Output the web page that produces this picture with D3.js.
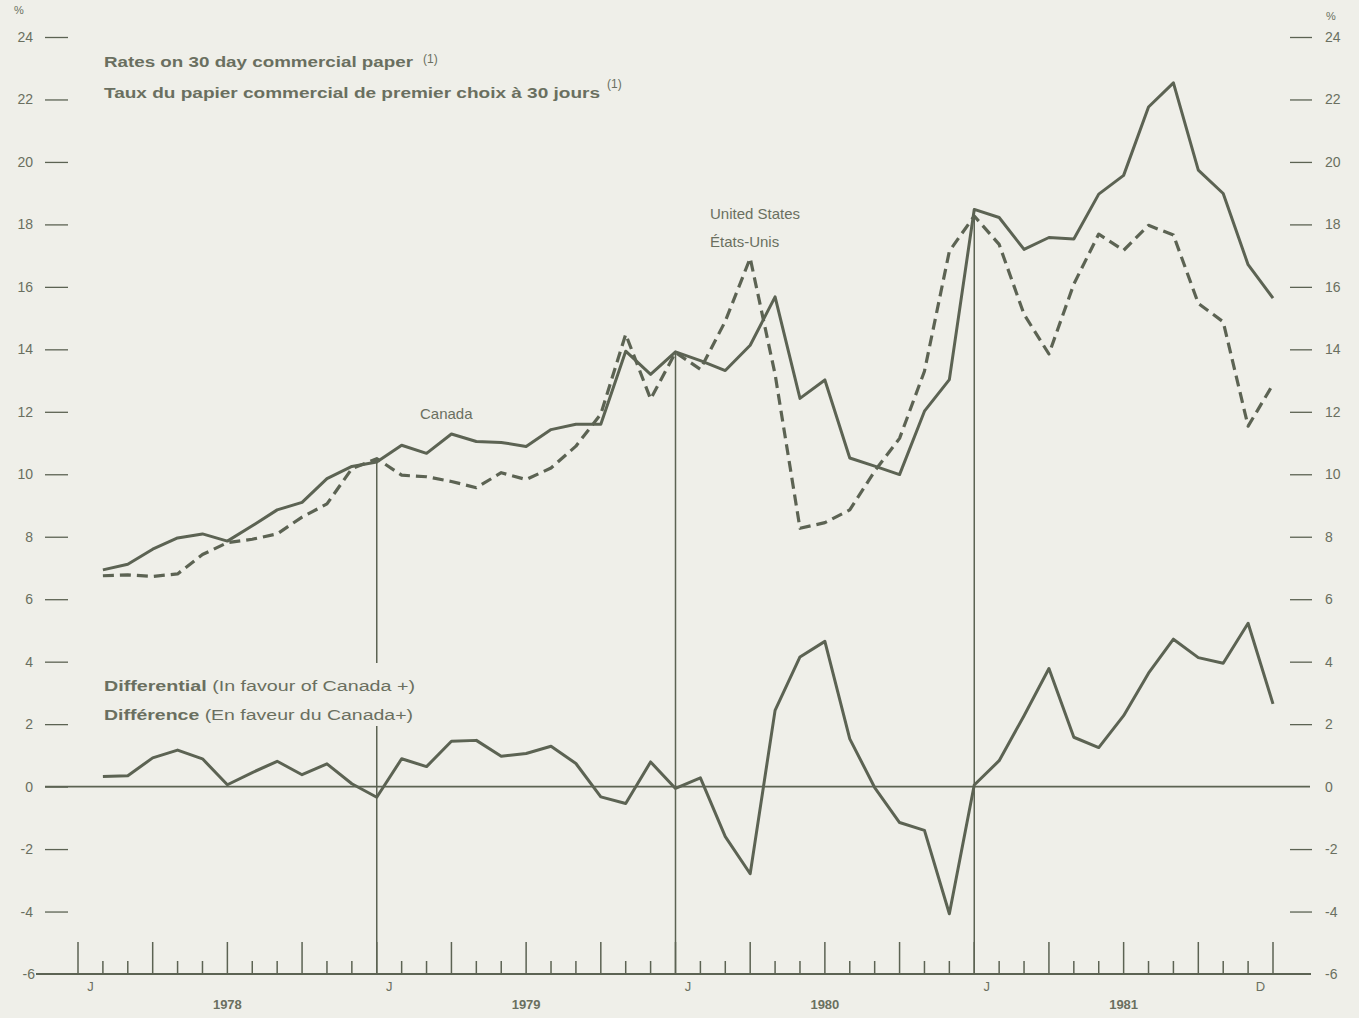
<!DOCTYPE html>
<html>
<head>
<meta charset="utf-8">
<script src="https://cdn.jsdelivr.net/npm/d3@7/dist/d3.min.js"></script>
<style>
	body { margin: 0; background: #efefe9; }
	svg { display: block; }
	text { font-family: "Liberation Sans", Arial, sans-serif; fill: #6a6f60; }
</style>
</head>
<body>
<div class="chart"></div>
<script>
// monthly values, Jan 1978 - Dec 1981
var canada = [6.94, 7.12, 7.6, 7.96, 8.09, 7.86, 8.35, 8.86, 9.1, 9.86, 10.25, 10.39,
	10.93, 10.67, 11.29, 11.05, 11.02, 10.89, 11.43, 11.6, 11.6, 13.94, 13.2, 13.92,
	13.64, 13.32, 14.13, 15.68, 12.43, 13.02, 10.52, 10.26, 9.99, 12.02, 13.03, 18.48,
	18.22, 17.2, 17.58, 17.53, 18.97, 19.57, 21.76, 22.53, 19.74, 18.99, 16.71, 15.64];

var us = [6.75, 6.78, 6.73, 6.81, 7.43, 7.81, 7.92, 8.09, 8.63, 9.05, 10.18, 10.5,
	9.97, 9.92, 9.77, 9.57, 10.05, 9.83, 10.2, 10.9, 11.93, 14.48, 12.41, 13.9,
	13.36, 14.9, 16.92, 13.2, 8.27, 8.45, 8.86, 10.1, 11.15, 13.3, 17.14, 18.27,
	17.36, 15.12, 13.85, 16.09, 17.69, 17.17, 17.97, 17.66, 15.47, 14.88, 11.54, 12.88];

var diff = [0.32, 0.35, 0.92, 1.17, 0.89, 0.06, 0.45, 0.81, 0.38, 0.73, 0.09, -0.34,
	0.89, 0.64, 1.45, 1.48, 0.97, 1.06, 1.29, 0.74, -0.33, -0.54, 0.79, -0.06,
	0.28, -1.6, -2.79, 2.44, 4.15, 4.65, 1.53, -0.03, -1.15, -1.4, -4.07, 0.05,
	0.83, 2.27, 3.78, 1.58, 1.25, 2.27, 3.63, 4.72, 4.13, 3.95, 5.23, 2.65];

var years = ["1978", "1979", "1980", "1981"];
var monthLabels = [{m: 0, t: "J"}, {m: 12, t: "J"}, {m: 24, t: "J"}, {m: 36, t: "J"}, {m: 47, t: "D"}];
var yTicks = [-6, -4, -2, 0, 2, 4, 6, 8, 10, 12, 14, 16, 18, 20, 22, 24];

var width = 1359,
	height = 1018,
	ink = "#5c6353",
	bg = "#efefe9";

var svg = d3.select(".chart").append("svg")
	.attr("width", width)
	.attr("height", height);

// x: month boundaries, point i sits at end of month i
var x = d3.scaleLinear().domain([0, 48]).range([78, 1273]);
var y = d3.scaleLinear().domain([-6, 24]).range([974, 37]);

var plain = function(d) { return String(d); };

// left axis
var left = svg.append("g")
	.attr("transform", "translate(68,0)")
	.call(d3.axisLeft(y).tickValues(yTicks.filter(function(d) { return d > -6; }))
		.tickFormat(plain).tickSize(23).tickPadding(12));
left.select(".domain").remove();
left.selectAll("line").attr("stroke", ink).attr("stroke-width", 1.3);
left.selectAll("text").style("font-size", "14px").attr("fill", "#6a6f60");

// right axis
var right = svg.append("g")
	.attr("transform", "translate(1290,0)")
	.call(d3.axisRight(y).tickValues(yTicks.filter(function(d) { return d > -6 && d != 0; }))
		.tickFormat(plain).tickSize(22).tickPadding(13));
right.select(".domain").remove();
right.selectAll("line").attr("stroke", ink).attr("stroke-width", 1.3);
right.selectAll("text").style("font-size", "14px").attr("fill", "#6a6f60");

// labels without tick lines
svg.append("text").attr("x", 1325).attr("y", y(0) + 5).style("font-size", "14px").text("0");
svg.append("text").attr("x", 35).attr("y", y(-6) + 5).attr("text-anchor", "end").style("font-size", "14px").text("-6");
svg.append("text").attr("x", 1325).attr("y", y(-6) + 5).style("font-size", "14px").text("-6");
svg.append("text").attr("x", 14).attr("y", 14).style("font-size", "11px").text("%");
svg.append("text").attr("x", 1326).attr("y", 20).style("font-size", "11px").text("%");

// zero line
svg.append("line")
	.attr("x1", 45).attr("x2", 1310)
	.attr("y1", y(0)).attr("y2", y(0))
	.attr("stroke", ink).attr("stroke-width", 1.8);

// bottom baseline and month ticks
svg.append("line")
	.attr("x1", 36).attr("x2", 1311)
	.attr("y1", y(-6)).attr("y2", y(-6))
	.attr("stroke", ink).attr("stroke-width", 1.8);

svg.selectAll(".mtick")
	.data(d3.range(0, 49)).enter()
	.append("line")
	.attr("class", "mtick")
	.attr("x1", function(d) { return x(d); })
	.attr("x2", function(d) { return x(d); })
	.attr("y1", y(-6))
	.attr("y2", function(d) { return d % 3 == 0 ? y(-6) - 32 : y(-6) - 13; })
	.attr("stroke", ink).attr("stroke-width", 1.5);

// year separators
[12, 24, 36].forEach(function(m) {
	svg.append("line")
		.attr("x1", x(m)).attr("x2", x(m))
		.attr("y1", y(-6))
		.attr("y2", y(Math.max(canada[m - 1], us[m - 1])))
		.attr("stroke", ink).attr("stroke-width", 1.5);
});

// month and year labels
svg.selectAll(".mlab")
	.data(monthLabels).enter()
	.append("text")
	.attr("x", function(d) { return x(d.m + 0.5); })
	.attr("y", 991)
	.attr("text-anchor", "middle")
	.style("font-size", "13px")
	.text(function(d) { return d.t; });

svg.selectAll(".ylab")
	.data(years).enter()
	.append("text")
	.attr("x", function(d, i) { return x(12 * i + 6); })
	.attr("y", 1009)
	.attr("text-anchor", "middle")
	.style("font-size", "13px")
	.style("font-weight", "bold")
	.text(function(d) { return d; });

// lines
var line = d3.line()
	.x(function(d, i) { return x(i + 1); })
	.y(function(d) { return y(d); });

svg.append("path").datum(us)
	.attr("d", line)
	.attr("fill", "none").attr("stroke", ink)
	.attr("stroke-width", 3.2).attr("stroke-dasharray", "11,6")
	.attr("stroke-linejoin", "round");

svg.append("path").datum(canada)
	.attr("d", line)
	.attr("fill", "none").attr("stroke", ink)
	.attr("stroke-width", 3).attr("stroke-linejoin", "round");

svg.append("path").datum(diff)
	.attr("d", line)
	.attr("fill", "none").attr("stroke", ink)
	.attr("stroke-width", 3).attr("stroke-linejoin", "round");

// titles
function label(xp, yp, parts, len) {
	var t = svg.append("text").attr("x", xp).attr("y", yp).style("font-size", "14px");
	if (len) t.attr("textLength", len).attr("lengthAdjust", "spacingAndGlyphs");
	parts.forEach(function(p) {
		t.append("tspan").style("font-weight", p.b ? "bold" : "normal").text(p.t);
	});
	return t;
}

label(104, 67, [{t: "Rates on 30 day commercial paper", b: true}], 309);
svg.append("text").attr("x", 423).attr("y", 63).style("font-size", "12px").text("(1)");
label(104, 98, [{t: "Taux du papier commercial de premier choix à 30 jours", b: true}], 496);
svg.append("text").attr("x", 607).attr("y", 88).style("font-size", "12px").text("(1)");

svg.append("text").attr("x", 420).attr("y", 419).style("font-size", "15px").text("Canada");
svg.append("text").attr("x", 710).attr("y", 219).style("font-size", "15px").text("United States");
svg.append("text").attr("x", 710).attr("y", 247).style("font-size", "15px").text("États-Unis");

// differential label, with a patch that breaks the 1979 separator
svg.append("rect").attr("x", 100).attr("y", 663).attr("width", 320).attr("height", 63).attr("fill", bg);
label(104, 691, [{t: "Differential", b: true}, {t: " (In favour of Canada +)"}], 311);
label(104, 720, [{t: "Différence", b: true}, {t: " (En faveur du Canada+)"}], 309);
</script>
</body>
</html>
